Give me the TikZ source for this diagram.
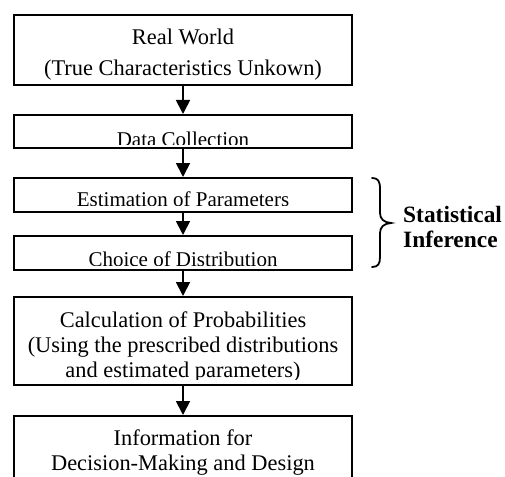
\documentclass[tikz,border=0pt]{standalone}
\usepackage{fontspec}
\setmainfont{Liberation Serif}
\usetikzlibrary{arrows.meta}
\begin{document}
\begin{tikzpicture}[x=1pt,y=-1pt,
  box/.style={draw, line width=2pt, minimum width=338pt, inner sep=0pt, anchor=center},
  arr/.style={line width=1.8pt, -{Triangle[width=14pt,length=14pt]}},
  big/.style={font=\fontsize{22.4}{25}\selectfont, anchor=base, inner sep=0pt},
  small/.style={font=\fontsize{21}{24}\selectfont, anchor=base, inner sep=0pt},
  lab/.style={font=\fontsize{23.4}{25}\selectfont\bfseries, anchor=base west, inner sep=0pt},
  bracestyle/.style={line width=1.8pt, line cap=round}]
\clip (0,0) rectangle (505,476);
\fill[white] (0,0) rectangle (505,476);
% boxes
\node[box, minimum height=70pt] (b1) at (183,50) {};
\node[box, minimum height=33pt] (b2) at (183,131.5) {};
\node[box, minimum height=34pt] (b3) at (183,195) {};
\node[box, minimum height=34pt] (b4) at (183,253) {};
\node[box, minimum height=88pt] (b5) at (183,341) {};
\node[box, minimum height=88pt] (b6) at (183,460) {};
% texts
\node[big] (t1a) at (183,45) {Real World};
\node[big] (t1b) at (183,75.5) {(True Characteristics Unkown)};
\begin{scope}
  \clip (14,115) rectangle (352,144);
  \node[small] (t2) at (183,146) {Data Collection};
\end{scope}
\begin{scope}
  \clip (14,178) rectangle (352,205);
  \node[small] (t3) at (183,206.5) {Estimation of Parameters};
\end{scope}
\begin{scope}
  \clip (14,236) rectangle (352,265);
  \node[small] (t4) at (183,266.5) {Choice of Distribution};
\end{scope}
\node[big] (t5a) at (183,327) {Calculation of Probabilities};
\node[big] (t5b) at (183,352) {(Using the prescribed distributions};
\begin{scope}
  \clip (14,360) rectangle (352,379);
  \node[big] (t5c) at (183,377) {and estimated parameters)};
\end{scope}
\node[big] (t6a) at (183,445) {Information for};
\node[big] (t6b) at (183,470) {Decision-Making and Design};
% arrows
\draw[arr] (b1.south) -- (b2.north);
\draw[arr] (b2.south) -- (b3.north);
\draw[arr] (b3.south) -- (b4.north);
\draw[arr] (b4.south) -- (b5.north);
\draw[arr] (b5.south) -- (b6.north);
% brace
\draw[bracestyle] (372,178) .. controls (378,178) and (380,181) .. (380,189)
  -- (380,213) .. controls (380,219) and (384,222.5) .. (391,223)
  .. controls (384,223.5) and (380,227) .. (380,233)
  -- (380,257) .. controls (380,264) and (378,267) .. (372,267);
\node[lab] (s1) at (403,222) {Statistical};
\node[lab] (s2) at (403,247) {Inference};
\end{tikzpicture}
\end{document}
